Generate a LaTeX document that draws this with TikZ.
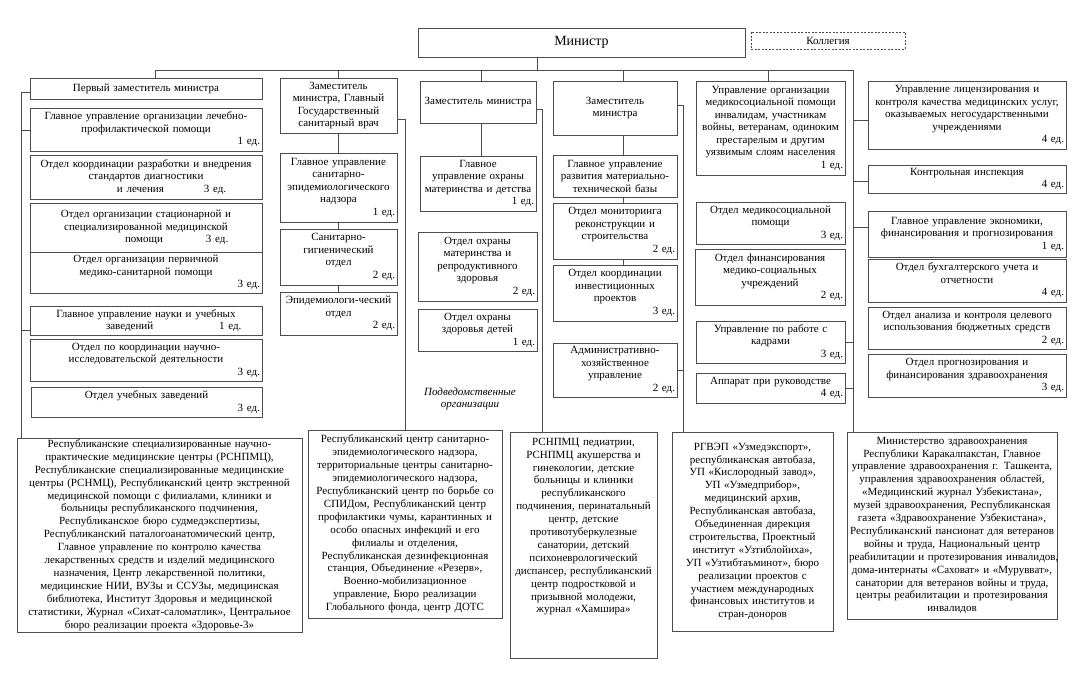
\documentclass[tikz,border=0pt]{standalone}
\usepackage{fontspec}
\setmainfont{Liberation Serif}
\newcommand\fsA{\fontsize{11}{12.5}\selectfont}
\newcommand\fsB{\fontsize{11}{12.9}\selectfont}
\newcommand\edn[1]{\\\mbox{}\hfill #1~ед.}
\tikzset{
  ob/.style={draw=black!70, line width=0.8pt, anchor=north west, inner xsep=2pt, inner ysep=1pt, outer sep=0pt, align=center, font=\fsA, text=black},
  obig/.style={font=\fsB},
  coll/.style={dash pattern=on 2pt off 1.5pt, inner ysep=0pt},
  conn/.style={draw=black!70, line width=0.8pt},
  subtxt/.style={font=\fsA\itshape, align=center, inner sep=0pt}
}
\newcommand\obox[7][]{\pgfmathsetmacro\obW{#5-#3-4}\pgfmathsetmacro\obH{#6-#4}%
  \node[ob,#1,text width=\obW pt,minimum height=\obH pt] (#2) at (#3,#4) {#7};}
\begin{document}
\begin{tikzpicture}[x=1pt,y=-1pt]
\fill[white] (0,0) rectangle (1082,679);
\useasboundingbox (0,0) rectangle (1082,679);

% top
\obox[font=\fontsize{14}{16}\selectfont]{min}{418}{28}{745}{57}{Министр}
\obox[coll]{kol}{751}{32}{905}{49}{Коллегия}

% column 1
\obox{c1a}{30}{78}{262}{99}{Первый заместитель министра}
\obox{c1b}{30}{108}{262}{151}{Главное управление организации лечебно-\\профилактической помощи\edn{1}}
\obox{c1c}{30}{155}{262}{199}{Отдел координации разработки и внедрения\\стандартов диагностики\\\mbox{}\hspace{85pt}и лечения\hspace{40pt}3~ед.\hfill\mbox{}}
\obox{c1d}{30}{203}{262}{252}{Отдел организации стационарной и\\специализированной медицинской\\\mbox{}\hspace{93pt}помощи\hspace{43pt}3~ед.\hfill\mbox{}}
\obox{c1e}{30}{252}{262}{293}{Отдел организации первичной\\медико-санитарной помощи\edn{3}}
\obox{c1f}{30}{306}{262}{335}{Главное управление науки и учебных\\\mbox{}\hspace{74pt}заведений\hspace{66pt}1~ед.\hfill\mbox{}}
\obox{c1g}{30}{339}{262}{381}{Отдел по координации научно-\\исследовательской деятельности\edn{3}}
\obox{c1h}{31}{387}{262}{417}{Отдел учебных заведений\edn{3}}

% column 2
\obox{c2a}{280}{78}{397}{133}{Заместитель\\министра, Главный\\Государственный\\санитарный врач}
\obox{c2b}{280}{153}{397}{222}{Главное управление\\санитарно-\\эпидемиологического\\надзора\edn{1}}
\obox{c2c}{280}{229}{397}{285}{Санитарно-\\гигиенический\\отдел\\\mbox{}\hfill 2~ед.\hspace{8pt}}
\obox{c2d}{280}{292}{397}{335}{Эпидемиологи-ческий\\отдел\\\mbox{}\hfill 2~ед.\hspace{11pt}}

% column 3
\obox{c3a}{420}{81}{536}{123}{Заместитель министра}
\obox{c3b}{420}{156}{536}{211}{Главное\\управление охраны\\материнства и детства\edn{1}}
\obox{c3c}{418}{232}{537}{301}{Отдел охраны\\материнства и\\репродуктивного\\здоровья\edn{2}}
\obox{c3d}{418}{309}{537}{351}{Отдел охраны\\здоровья детей\edn{1}}
\node[subtxt] (sub) at (470,399) {Подведомственные\\организации};

% column 4
\obox{c4a}{553}{81}{677}{135}{Заместитель\\министра}
\obox{c4b}{553}{155}{677}{197}{Главное управление\\развития материально-\\технической базы}
\obox{c4c}{553}{203}{677}{259}{Отдел мониторинга\\реконструкции и\\строительства\edn{2}}
\obox{c4d}{553}{265}{677}{321}{Отдел координации\\инвестиционных\\проектов\edn{3}}
\obox{c4e}{553}{343}{677}{397}{Административно-\\хозяйственное\\управление\edn{2}}

% column 5
\obox{c5a}{696}{81}{845}{175}{Управление организации\\медикосоциальной помощи\\инвалидам, участникам\\\mbox{войны, ветеранам, одиноким}\\престарелым и другим\\\mbox{уязвимым слоям населения}\edn{1}}
\obox{c5b}{696}{202}{845}{244}{Отдел медикосоциальной\\помощи\edn{3}}
\obox{c5c}{695}{249}{845}{305}{Отдел финансирования\\медико-социальных\\учреждений\edn{2}}
\obox{c5d}{696}{321}{845}{363}{Управление по работе с\\кадрами\edn{3}}
\obox{c5e}{696}{373}{845}{403}{Аппарат при руководстве\edn{4}}

% column 6
\obox{c6a}{868}{81}{1066}{149}{Управление лицензирования и\\\mbox{контроля качества медицинских услуг,}\\оказываемых негосударственными\\учреждениями\edn{4}}
\obox{c6b}{868}{165}{1066}{193}{Контрольная инспекция\edn{4}}
\obox{c6c}{868}{211}{1066}{257}{Главное управление экономики,\\\mbox{финансирования и прогнозирования}\edn{1}}
\obox{c6d}{868}{259}{1066}{302}{Отдел бухгалтерского учета и\\отчетности\edn{4}}
\obox{c6e}{868}{307}{1066}{349}{Отдел анализа и контроля целевого\\\mbox{использования бюджетных средств}\edn{2}}
\obox{c6f}{868}{354}{1066}{397}{Отдел прогнозирования и\\\mbox{финансирования здравоохранения}\edn{3}}

% bottom row
\obox[obig]{b1}{17}{438}{302}{632}{Республиканские специализированные научно-\\практические медицинские центры (РСНПМЦ),\\\mbox{Республиканские специализированные медицинские}\\\mbox{центры (РСНМЦ), Республиканский центр экстренной}\\медицинской помощи с филиалами, клиники и\\больницы республиканского подчинения,\\Республиканское бюро судмедэкспертизы,\\Республиканский паталогоанатомический центр,\\Главное управление по контролю качества\\лекарственных средств и изделий медицинского\\назначения, Центр лекарственной политики,\\медицинские НИИ, ВУЗы и ССУЗы, медицинская\\библиотека, Институт Здоровья и медицинской\\\mbox{статистики, Журнал «Сихат-саломатлик», Центральное}\\бюро реализации проекта «Здоровье-3»}
\obox[obig]{b2}{308}{430}{502}{618}{Республиканский центр санитарно-\\эпидемиологического надзора,\\территориальные центры санитарно-\\эпидемиологического надзора,\\Республиканский центр по борьбе со\\СПИДом, Республиканский центр\\профилактики чумы, карантинных и\\особо опасных инфекций и его\\филиалы и отделения,\\Республиканская дезинфекционная\\станция, Объединение «Резерв»,\\Военно-мобилизационное\\управление, Бюро реализации\\Глобального фонда, центр ДОТС}
\obox[obig]{b3}{510}{432}{657}{658}{\parbox[c][222pt][t]{143pt}{\vspace*{4pt}\centering РСНПМЦ педиатрии,\\РСНПМЦ акушерства и\\гинекологии, детские\\больницы и клиники\\республиканского\\\mbox{подчинения, перинатальный}\\центр, детские\\противотуберкулезные\\санатории, детский\\психоневрологический\\\mbox{диспансер, республиканский}\\центр подростковой и\\призывной молодежи,\\журнал «Хамшира»}}
\obox[obig]{b4}{672}{432}{833}{631}{РГВЭП «Узмедэкспорт»,\\республиканская автобаза,\\УП «Кислородный завод»,\\УП «Узмедприбор»,\\медицинский архив,\\Республиканская автобаза,\\Объединенная дирекция\\строительства, Проектный\\институт «Узтиблойиха»,\\УП «Узтибтаъминот», бюро\\реализации проектов с\\участием международных\\финансовых институтов и\\стран-доноров}
\obox[obig]{b5}{847}{432}{1057}{619}{Министерство здравоохранения\\\mbox{Республики Каракалпакстан, Главное}\\\mbox{управление здравоохранения г. Ташкента,}\\управления здравоохранения областей,\\«Медицинский журнал Узбекистана»,\\\mbox{музей здравоохранения, Республиканская}\\\mbox{газета «Здравоохранение Узбекистана»,}\\\mbox{Республиканский пансионат для ветеранов}\\войны и труда, Национальный центр\\\mbox{реабилитации и протезирования инвалидов,}\\\mbox{дома-интернаты «Саховат» и «Мурувват»,}\\санатории для ветеранов войны и труда,\\центры реабилитации и протезирования\\инвалидов}

% connectors
\coordinate (busL) at (155,70);
\coordinate (busR) at (853,70);
\coordinate (minD) at (537,70);
\coordinate (x3) at (481,70);
\coordinate (x4) at (623,70);
\coordinate (x5) at (768,70);
\draw[conn] (c1a.north -| busL) -- (busL) -- (busR) -- (b5.north -| busR);
\draw[conn] (min.south -| minD) -- (minD);
\draw[conn] (c2a.north) -- (c2a.north |- busL);
\draw[conn] (c3a.north -| x3) -- (x3);
\draw[conn] (c4a.north -| x4) -- (x4);
\draw[conn] (c5a.north -| x5) -- (x5);

\coordinate (L1) at (21,92);
\coordinate (L2) at (21,130);
\coordinate (L3) at (21,330);
\draw[conn] (c1a.west |- L1) -- (L1) -- (b1.north -| L1);
\draw[conn] (L2) -- (c1b.west |- L2);
\draw[conn] (L3) -- (c1f.west |- L3);

\draw[conn] (c2a.south) -- (c2b.north);
\draw[conn] (c2b.south) -- (c2c.north);
\draw[conn] (c2c.south) -- (c2d.north);
\coordinate (R2) at (405,119);
\draw[conn] (c2a.east |- R2) -- (R2) -- (b2.north -| R2);

\draw[conn] (c3a.south -| x3) -- (c3b.north -| x3);
\coordinate (R3) at (542,109);
\draw[conn] (c3a.east |- R3) -- (R3) -- (b3.north -| R3);

\draw[conn] (c4a.south -| x4) -- (c4b.north -| x4);
\draw[conn] (c4b.south -| x4) -- (c4c.north -| x4);
\draw[conn] (c4c.south -| x4) -- (c4d.north -| x4);
\coordinate (R4) at (683,105);
\draw[conn] (c4a.east |- R4) -- (R4) -- (b4.north -| R4);
\draw[conn] (c4e.east) -- (c4e.east -| R4);

\draw[conn] (c5d.east) -- (c5d.east -| busR);
\draw[conn] (c5e.east) -- (c5e.east -| busR);

\coordinate (S6a) at (853,120);
\coordinate (S6b) at (853,181);
\coordinate (S6c) at (853,227);
\draw[conn] (S6a) -- (c6a.west |- S6a);
\draw[conn] (S6b) -- (c6b.west |- S6b);
\draw[conn] (S6c) -- (c6c.west |- S6c);
\end{tikzpicture}
\end{document}
